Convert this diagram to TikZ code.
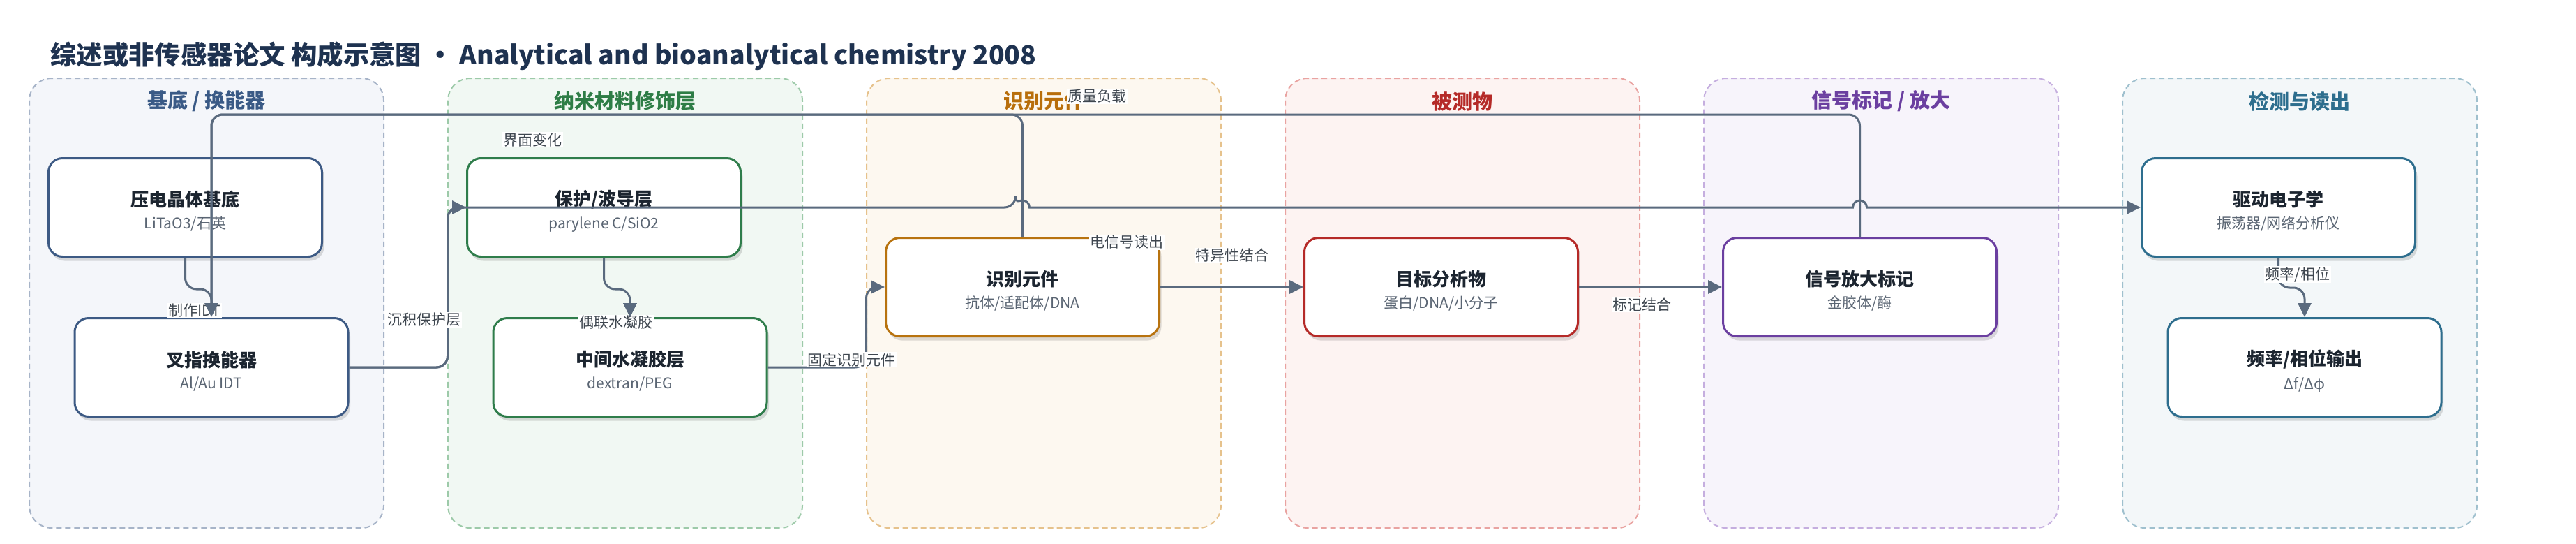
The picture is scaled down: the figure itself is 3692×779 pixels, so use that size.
\documentclass[tikz,border=0pt]{standalone}
\usepackage{fontspec}
\setmainfont{Noto Sans CJK SC}
\usetikzlibrary{arrows.meta,shadows,calc}
\definecolor{edgec}{HTML}{5A6A7E}
\definecolor{txtdark}{HTML}{1C2530}
\definecolor{txtsub}{HTML}{5A6573}
\definecolor{maintitle}{HTML}{1E3250}
\definecolor{gfA}{HTML}{F4F6FA}\definecolor{gbA}{HTML}{A7B4C8}\definecolor{gtA}{HTML}{3A5A86}\definecolor{bxA}{HTML}{3D5A84}
\definecolor{gfB}{HTML}{F1F8F3}\definecolor{gbB}{HTML}{9DCAA9}\definecolor{gtB}{HTML}{2E7D46}\definecolor{bxB}{HTML}{2F7D4B}
\definecolor{gfC}{HTML}{FDF8F0}\definecolor{gbC}{HTML}{E6C28C}\definecolor{gtC}{HTML}{B86E0B}\definecolor{bxC}{HTML}{B8730F}
\definecolor{gfD}{HTML}{FDF3F2}\definecolor{gbD}{HTML}{E9A3A1}\definecolor{gtD}{HTML}{B52A28}\definecolor{bxD}{HTML}{B52A28}
\definecolor{gfE}{HTML}{F7F4FB}\definecolor{gbE}{HTML}{C5AEDF}\definecolor{gtE}{HTML}{6B3FA0}\definecolor{bxE}{HTML}{6B3FA0}
\definecolor{gfF}{HTML}{F3F7F9}\definecolor{gbF}{HTML}{9FC0CE}\definecolor{gtF}{HTML}{2D6E8E}\definecolor{bxF}{HTML}{2E6E8E}
\tikzset{
  grp/.style 2 args={draw=#2, fill=#1, line width=2pt, dash pattern=on 8pt off 5pt,
    rounded corners=32pt, minimum width=508pt, minimum height=644pt, inner sep=0pt},
  gtitle/.style={text=#1, font=\fontsize{29}{34}\selectfont\bfseries, inner sep=0pt},
  box/.style={draw=#1, line width=3pt, fill=white, rounded corners=20pt,
    minimum width=392pt, minimum height=141pt, align=center, inner sep=0pt,
    drop shadow={shadow xshift=3pt, shadow yshift=-6pt, opacity=0.13, fill=black}},
  conn/.style={draw=edgec, line width=3pt, rounded corners=16pt,
    -{Triangle[length=20pt,width=19pt]}},
  lbl/.style={fill=white, inner sep=1.5pt, text=txtdark!85,
    font=\fontsize{21}{24}\selectfont},
}
\newcommand{\bx}[2]{{\fontsize{26}{30}\selectfont\bfseries\color{txtdark}\rule{0pt}{33pt}#1}\\[11pt]{\fontsize{21}{25}\selectfont\color{txtsub}#2}}
\begin{document}
\begin{tikzpicture}[x=1pt,y=-1pt]
\fill[white] (0,0) rectangle (3692,779);
\useasboundingbox (0,0) rectangle (3692,779);

\node[anchor=west, text=maintitle, font=\fontsize{37.4}{44}\selectfont\bfseries, inner sep=0pt] (title) at (72,80)
  {综述或非传感器论文 构成示意图 • Analytical and bioanalytical chemistry 2008};

% groups
\node[grp={gfA}{gbA}] (g1) at (296,434) {};
\node[grp={gfB}{gbB}] (g2) at (896,434) {};
\node[grp={gfC}{gbC}] (g3) at (1496,434) {};
\node[grp={gfD}{gbD}] (g4) at (2096,434) {};
\node[grp={gfE}{gbE}] (g5) at (2696,434) {};
\node[grp={gfF}{gbF}] (g6) at (3296,434) {};

\node[gtitle=gtA] (t1) at (296,145) {基底 / 换能器};
\node[gtitle=gtB] (t2) at (896,145) {纳米材料修饰层};
\node[gtitle=gtC] (t3) at (1496,145) {识别元件};
\node[gtitle=gtD] (t4) at (2096,145) {被测物};
\node[gtitle=gtE] (t5) at (2696,145) {信号标记 / 放大};
\node[gtitle=gtF] (t6) at (3296,145) {检测与读出};

% boxes
\node[box=bxA] (b1) at (265.5,297) {\bx{压电晶体基底}{LiTaO3/石英}};
\node[box=bxA] (b2) at (303,526) {\bx{叉指换能器}{Al/Au IDT}};
\node[box=bxB] (b3) at (865.5,297) {\bx{保护/波导层}{parylene C/SiO2}};
\node[box=bxB] (b4) at (903,526) {\bx{中间水凝胶层}{dextran/PEG}};
\node[box=bxC] (b5) at (1465.5,411) {\bx{识别元件}{抗体/适配体/DNA}};
\node[box=bxD] (b6) at (2065.5,411) {\bx{目标分析物}{蛋白/DNA/小分子}};
\node[box=bxE] (b7) at (2665.5,411) {\bx{信号放大标记}{金胶体/酶}};
\node[box=bxF] (b8) at (3265.5,297) {\bx{驱动电子学}{振荡器/网络分析仪}};
\node[box=bxF] (b9) at (3303,526) {\bx{频率/相位输出}{Δf/Δφ}};

% connectors
\draw[conn] (b1.south) -- (265.5,414) -| (b2.north);
\draw[conn] (b5.north) -- (1465.5,164) -| (b2.north);
\draw[conn] (b7.north) -- (2665.5,164) -| (b2.north);
\draw[conn] (b2.east) -- (641.5,526) |- (b3.west);
\draw[conn] (b2.east) -- (641.5,526) -- (641.5,297) -- (1455.5,297) [sharp corners]
   arc[start angle=180, end angle=0, radius=10pt] -- (2655.5,297)
   arc[start angle=180, end angle=0, radius=10pt] -- (b8.west);
\draw[conn] (b3.south) -- (865.5,414) -| (b4.north);
\draw[conn] (b4.east) -- (1241.5,526) |- (b5.west);
\draw[conn] (b5.east) -- (b6.west);
\draw[conn] (b6.east) -- (b7.west);
\draw[conn] (b8.south) -- (3265.5,412) -| (b9.north);

% labels
\node[lbl] (l1) at (279,445) {制作IDT};
\node[lbl] (l2) at (608,458) {沉积保护层};
\node[lbl] (l3) at (883,462) {偶联水凝胶};
\node[lbl] (l4) at (1220,515) {固定识别元件};
\node[lbl] (l5) at (1766,366) {特异性结合};
\node[lbl] (l6) at (2353,436) {标记结合};
\node[lbl] (l7) at (3293,393) {频率/相位};
\node[lbl] (l8) at (1572,138) {质量负载};
\node[lbl] (l9) at (1615,347) {电信号读出};
\node[lbl] (l10) at (763,200) {界面变化};

% arrow tips redrawn over labels
\draw[conn] ($(b2.north)+(0,-22)$) -- (b2.north);
\draw[conn] ($(b4.north)+(0,-22)$) -- (b4.north);
\end{tikzpicture}
\end{document}
